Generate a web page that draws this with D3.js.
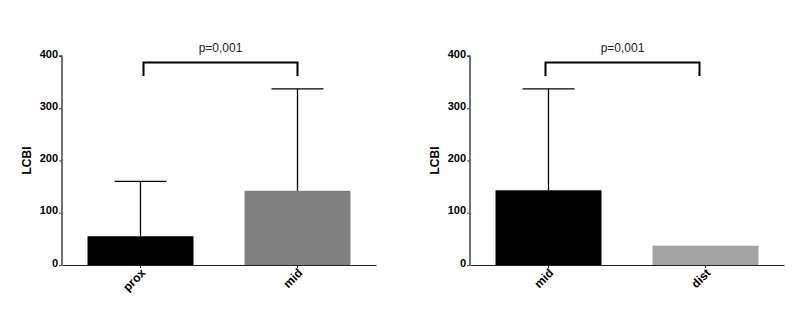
<!DOCTYPE html>
<html>
<head>
<meta charset="utf-8">
<script src="https://cdn.jsdelivr.net/npm/d3@7"></script>
<style>
  body { margin: 0; background: #fff; }
  svg { display: block; }
</style>
</head>
<body>
<div id="chart"></div>
<script>
// data
var leftCats = ["prox", "mid"];
var leftMeans = [55, 142];
var leftErr = [160, 337];
var leftColors = ["#000000", "#808080"];

var rightCats = ["mid", "dist"];
var rightMeans = [143, 37];
var rightErr = [337, null];
var rightColors = ["#000000", "#a3a3a6"];

var yTicks = [0, 100, 200, 300, 400];
var yLabel = "LCBI";
var pText = "p=0,001";

var svg = d3.select("#chart").append("svg")
    .attr("width", 800)
    .attr("height", 336);

function drawPanel(x0, cats, means, errs, colors, brDx) {
    var g = svg.append("g");

    var x = d3.scaleBand().domain(cats)
        .range([x0, x0 + 314])
        .paddingInner(0.325)
        .paddingOuter(0.1625);
    var y = d3.scaleLinear().domain([0, 400]).range([265, 56]);

    // bars
    g.selectAll("rect.bar")
        .data(cats)
        .enter().append("rect")
        .attr("class", "bar")
        .attr("x", function (d) { return x(d); })
        .attr("y", function (d, i) { return y(means[i]); })
        .attr("width", x.bandwidth())
        .attr("height", function (d, i) { return y(0) - y(means[i]); })
        .style("fill", function (d, i) { return colors[i]; });

    // error bars (upper only)
    cats.forEach(function (c, i) {
        if (errs[i] == null) return;
        var cx = x(c) + x.bandwidth() / 2;
        g.append("line")
            .attr("x1", cx).attr("x2", cx)
            .attr("y1", y(means[i])).attr("y2", y(errs[i]))
            .style("stroke", "#000").style("stroke-width", 1.3);
        g.append("line")
            .attr("x1", cx - 26).attr("x2", cx + 26)
            .attr("y1", y(errs[i])).attr("y2", y(errs[i]))
            .style("stroke", "#000").style("stroke-width", 1.3);
    });

    // axes
    var yAxis = g.append("g")
        .attr("transform", "translate(" + x0 + ",0)")
        .call(d3.axisLeft(y).tickValues(yTicks).tickSize(3).tickPadding(1));
    yAxis.select(".domain").attr("d", "M-3," + y(400) + "H0V" + y(0)).style("stroke", "#444").style("stroke-width", 1.5);
    yAxis.selectAll(".tick line").style("stroke", "#444");
    yAxis.selectAll("text")
        .style("font", 'bold 11px Arial, "Liberation Sans", sans-serif')
        .attr("dy", "0.1em");

    var xAxis = g.append("g")
        .attr("transform", "translate(0," + y(0) + ")")
        .call(d3.axisBottom(x).tickSize(3).tickSizeOuter(0));
    xAxis.select(".domain").style("stroke", "#222").style("stroke-width", 1.2);
    xAxis.selectAll(".tick line").style("stroke", "#222");
    xAxis.selectAll("text")
        .style("font", 'bold 12px Arial, "Liberation Sans", sans-serif')
        .style("text-anchor", "end")
        .attr("x", -2)
        .attr("y", 6)
        .attr("dy", "0.35em")
        .attr("transform", "rotate(-45)");

    // y label
    g.append("text")
        .attr("transform", "translate(" + (x0 - 31) + "," + y(200) + ") rotate(-90)")
        .style("text-anchor", "middle")
        .style("font", 'bold 12px Arial, "Liberation Sans", sans-serif')
        .text(yLabel);

    // significance bracket
    var xa = x(cats[0]) + x.bandwidth() / 2 + brDx[0];
    var xb = x(cats[1]) + x.bandwidth() / 2 + brDx[1];
    g.append("path")
        .attr("d", "M" + xa + ",76V62.5H" + xb + "V76")
        .style("fill", "none")
        .style("stroke", "#000")
        .style("stroke-width", 2);
    g.append("text")
        .attr("x", (xa + xb) / 2)
        .attr("y", 52)
        .style("text-anchor", "middle")
        .style("font", '12px Arial, "Liberation Sans", sans-serif')
        .style("fill", "#222")
        .text(pText);
}

drawPanel(62, leftCats, leftMeans, leftErr, leftColors, [3, 0]);
drawPanel(470, rightCats, rightMeans, rightErr, rightColors, [-3, -6]);
</script>
</body>
</html>
